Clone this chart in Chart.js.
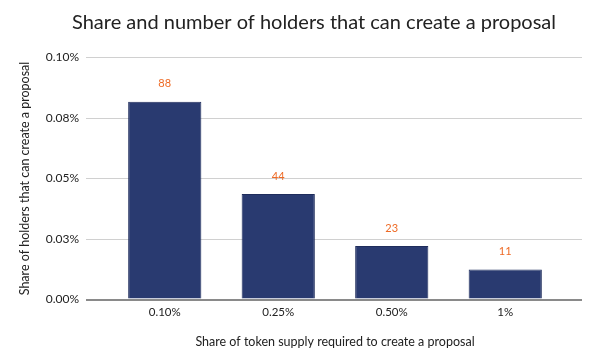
<!DOCTYPE html>
<html>
<head>
<meta charset="utf-8">
<script src="https://cdn.jsdelivr.net/npm/chart.js@4"></script>
<style>
html,body{margin:0;padding:0;background:#fff;}
#wrap{width:599px;height:358px;}
</style>
</head>
<body>
<div id="wrap"><canvas id="c" width="599" height="358"></canvas></div>
<script>
const categories = ['0.10%', '0.25%', '0.50%', '1%'];
const shareValues = [0.0817, 0.0436, 0.0221, 0.0124];
const holderCounts = [88, 44, 23, 11];
const yTickLabels = ['0.00%', '0.03%', '0.05%', '0.08%', '0.10%'];
const chartTitle = 'Share and number of holders that can create a proposal';

const FONT = 'Lato, "Open Sans", sans-serif';

const countLabels = {
  id: 'countLabels',
  afterDatasetsDraw(chart) {
    const ctx = chart.ctx;
    const meta = chart.getDatasetMeta(0);
    ctx.save();
    ctx.fillStyle = '#ee6a25';
    ctx.font = '11px ' + FONT;
    ctx.textAlign = 'center';
    ctx.textBaseline = 'middle';
    meta.data.forEach((bar, i) => {
      ctx.fillText(String(holderCounts[i]), bar.x, bar.y - 18);
    });
    ctx.restore();
  }
};

const titleDraw = {
  id: 'titleDraw',
  afterDraw(chart) {
    const ctx = chart.ctx;
    ctx.save();
    ctx.fillStyle = '#222';
    ctx.font = '20px ' + FONT;
    ctx.textAlign = 'center';
    ctx.textBaseline = 'middle';
    ctx.fillText(chartTitle, 314, 23);
    ctx.restore();
  }
};

const gridColor = (c) => (c.tick && c.tick.value === 0 ? '#8a8a8a' : '#d0d0d0');
const gridWidth = (c) => (c.tick && c.tick.value === 0 ? 2 : 1);

new Chart(document.getElementById('c'), {
  type: 'bar',
  data: {
    labels: categories,
    datasets: [{
      data: shareValues,
      backgroundColor: '#293a70',
      borderColor: '#1f2d5c',
      borderWidth: 1,
      barPercentage: 0.645,
      categoryPercentage: 1.0
    }]
  },
  options: {
    responsive: false,
    animation: false,
    layout: { padding: { top: 57.5, left: 0, right: 0, bottom: 0 } },
    plugins: {
      legend: { display: false },
      tooltip: { enabled: false },
      title: { display: false }
    },
    scales: {
      x: {
        grid: { display: false, drawTicks: false },
        border: { display: false },
        ticks: { color: '#222', font: { family: FONT, size: 11.5 }, padding: 6 },
        title: {
          display: true,
          text: 'Share of token supply required to create a proposal',
          color: '#222',
          font: { family: FONT, size: 12.5 },
          padding: { top: 4, bottom: 9 }
        },
        afterFit(s) { s.height = 58.5; }
      },
      y: {
        min: 0,
        max: 0.1,
        position: 'left',
        border: { display: false },
        grid: { color: gridColor, lineWidth: gridWidth, drawTicks: true, tickLength: 22 },
        ticks: {
          stepSize: 0.025,
          color: '#222',
          font: { family: FONT, size: 12 },
          padding: 7,
          callback: (v, i) => yTickLabels[i]
        },
        title: {
          display: true,
          text: 'Share of holders that can create a proposal',
          color: '#222',
          font: { family: FONT, size: 12.5 },
          padding: { top: 17, bottom: 0 }
        },
        afterFit(s) { s.width = 108; }
      },
      y2: {
        min: 0,
        max: 0.1,
        position: 'right',
        border: { display: false },
        grid: { color: gridColor, lineWidth: gridWidth, drawOnChartArea: false, drawTicks: true, tickLength: 20 },
        ticks: { stepSize: 0.025, display: false },
        afterFit(s) { s.width = 37; }
      }
    }
  },
  plugins: [countLabels, titleDraw]
});
</script>
</body>
</html>
